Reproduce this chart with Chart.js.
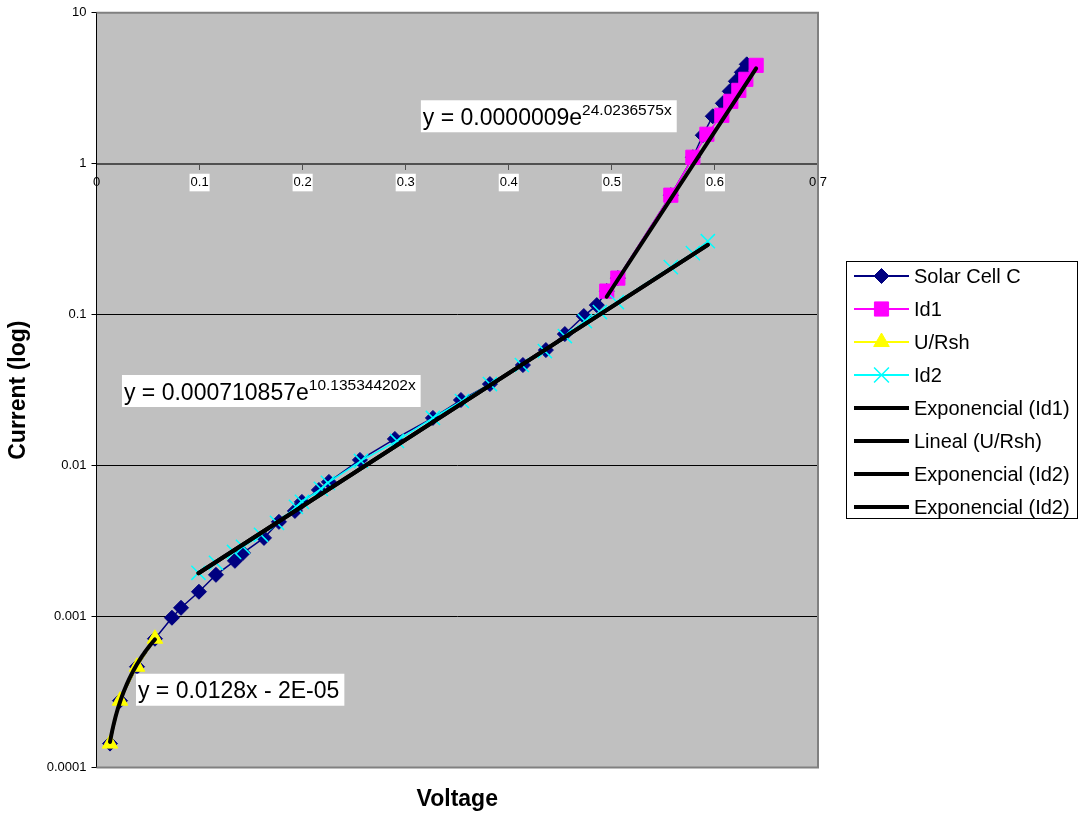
<!DOCTYPE html>
<html>
<head>
<meta charset="utf-8">
<title>Solar Cell C – I-V curve</title>
<script src="https://cdn.jsdelivr.net/npm/chart.js@4.4.1/dist/chart.umd.min.js"></script>
<style>
  html, body { margin: 0; padding: 0; background: #ffffff; }
  #wrap { width: 1078px; height: 816px; position: relative; }
</style>
</head>
<body>
<div id="wrap"><canvas id="chart" width="1078" height="816"></canvas></div>
<script>
// ---- measured data (voltage in V, current in A) ----
const seriesNames = ['Solar Cell C', 'Id1', 'U/Rsh', 'Id2',
  'Exponencial (Id1)', 'Lineal (U/Rsh)', 'Exponencial (Id2)', 'Exponencial (Id2)'];

const scVoltage = [0.0131, 0.0228, 0.0393, 0.0567, 0.0732, 0.0820, 0.0994, 0.1159, 0.1343, 0.1421,
  0.1625, 0.1770, 0.1925, 0.1993, 0.2158, 0.2255, 0.2556, 0.2895, 0.3264, 0.3536,
  0.3817, 0.4137, 0.4360, 0.4544, 0.4728, 0.4854, 0.4950, 0.5058, 0.5572, 0.5786,
  0.5882, 0.5979, 0.6077, 0.6144, 0.6203, 0.6261, 0.6309];
const scCurrent = [0.000144, 0.000277, 0.000465, 0.000713, 0.000982, 0.001143, 0.00146, 0.00189, 0.00234, 0.00264,
  0.00332, 0.00424, 0.00501, 0.00575, 0.00690, 0.00780, 0.01091, 0.01502, 0.0207, 0.0272,
  0.0347, 0.0464, 0.0583, 0.0744, 0.0979, 0.1157, 0.1433, 0.1747, 0.619, 1.104,
  1.544, 2.063, 2.514, 3.018, 3.516, 4.033, 4.555];

const id1Voltage = [0.495, 0.5058, 0.5572, 0.5786, 0.5922, 0.6067, 0.6154, 0.6232, 0.6300, 0.640];
const id1Current = [0.1433, 0.1747, 0.619, 1.104, 1.568, 2.094, 2.592, 3.064, 3.625, 4.486];

const urshVoltage = [0.0131, 0.0228, 0.0393, 0.0567];
const urshCurrent = [0.000144, 0.000277, 0.000465, 0.000713];

const id2Voltage = [0.0989, 0.1159, 0.1334, 0.1421, 0.1596, 0.1751, 0.1935, 0.1993, 0.2177, 0.2245,
  0.2566, 0.2915, 0.3264, 0.3545, 0.3817, 0.4127, 0.4350, 0.4544, 0.4738, 0.4884,
  0.5049, 0.5572, 0.5786, 0.5931];
const id2Current = [0.00195, 0.00227, 0.00268, 0.00290, 0.00348, 0.00418, 0.00533, 0.00575, 0.00701, 0.00769,
  0.01074, 0.01457, 0.0207, 0.0268, 0.0347, 0.0464, 0.0574, 0.0722, 0.0907, 0.1041,
  0.1212, 0.2065, 0.2557, 0.3069];

// fitted trendline coefficients
const fitId1 = [0.0000009, 24.0236575];      // y = a·e^(b·x)
const fitId2 = [0.000710857, 10.135344202];  // y = a·e^(b·x)
const fitUrsh = [0.0128, -0.00002];          // y = m·x + c

// axis ticks
const xTickValues = [0, 0.1, 0.2, 0.3, 0.4, 0.5, 0.6, 0.7];
const xTickLabels = ['0', '0.1', '0.2', '0.3', '0.4', '0.5', '0.6', '0.7'];
const yTickValues = [0.0001, 0.001, 0.01, 0.1, 1, 10];
const yTickLabels = ['0.0001', '0.001', '0.01', '0.1', '1', '10'];

// ---- helpers ----
const FONT = "'Liberation Sans', Arial, Helvetica, sans-serif";

function toPoints(xs, ys) { return xs.map((x, i) => ({ x: x, y: ys[i] })); }

function expTrend(coef, xs) {
  const x0 = Math.min(...xs), x1 = Math.max(...xs);
  return [x0, x1].map(x => ({ x: x, y: coef[0] * Math.exp(coef[1] * x) }));
}

function linTrend(coef, xs, steps) {
  const x0 = Math.min(...xs), x1 = Math.max(...xs);
  const out = [];
  for (let i = 0; i <= steps; i++) {
    const x = x0 + (x1 - x0) * i / steps;
    out.push({ x: x, y: coef[0] * x + coef[1] });
  }
  return out;
}

// styles for series and legend
const styles = [
  { line: '#000080', lw: 1.5, marker: 'rectRot', r: 7.5, legendR: 7.5, fill: '#000080' },
  { line: '#FF00FF', lw: 1.5, marker: 'rect', r: 10, legendR: 10, fill: '#FF00FF' },
  { line: '#FFFF00', lw: 1.5, marker: 'triangle', r: 9, legendR: 9, fill: '#FFFF00' },
  { line: '#00FFFF', lw: 1.5, marker: 'crossRot', r: 10, legendR: 10.5, fill: '#00FFFF' },
  { line: '#000000', lw: 4 },
  { line: '#000000', lw: 4 },
  { line: '#000000', lw: 4 },
  { line: '#000000', lw: 4 }
];

function seriesDataset(i, data, order) {
  const s = styles[i];
  return {
    label: seriesNames[i], data: data, showLine: true,
    borderColor: s.line, borderWidth: s.lw, backgroundColor: s.fill,
    pointStyle: s.marker, pointRadius: s.r, pointHoverRadius: s.r,
    pointBackgroundColor: s.fill, pointBorderColor: s.fill,
    pointBorderWidth: s.marker === 'crossRot' ? 1.5 : 1,
    order: order
  };
}

function trendDataset(i, data, order) {
  return {
    label: seriesNames[i], data: data, showLine: true,
    borderColor: '#000000', borderWidth: 4, pointRadius: 0, pointHoverRadius: 0,
    borderCapStyle: 'round', order: order
  };
}

// marker drawing for the legend symbols
function drawMarker(ctx, style, x, y, r, color) {
  ctx.save();
  ctx.fillStyle = color; ctx.strokeStyle = color; ctx.lineWidth = 1;
  ctx.beginPath();
  if (style === 'rectRot') {
    ctx.moveTo(x, y - r); ctx.lineTo(x + r, y); ctx.lineTo(x, y + r); ctx.lineTo(x - r, y);
    ctx.closePath(); ctx.fill(); ctx.stroke();
  } else if (style === 'rect') {
    const s = r * Math.SQRT1_2;
    ctx.rect(x - s, y - s, 2 * s, 2 * s); ctx.fill(); ctx.stroke();
  } else if (style === 'triangle') {
    for (let k = 0; k < 3; k++) {
      const a = k * 2 * Math.PI / 3;
      const px = x + Math.sin(a) * r, py = y - Math.cos(a) * r;
      if (k === 0) ctx.moveTo(px, py); else ctx.lineTo(px, py);
    }
    ctx.closePath(); ctx.fill(); ctx.stroke();
  } else if (style === 'crossRot') {
    const s = r * Math.SQRT1_2;
    ctx.lineWidth = 1.5;
    ctx.moveTo(x - s, y - s); ctx.lineTo(x + s, y + s);
    ctx.moveTo(x + s, y - s); ctx.lineTo(x - s, y + s);
    ctx.stroke();
  }
  ctx.restore();
}

// fitted-equation labels: anchor (top-left) in data coordinates
const equationLabels = [
  { at: [0.3147, 2.633], main: 'y = 0.0000009e', sup: '24.0236575x' },
  { at: [0.0247, 0.03984], main: 'y = 0.000710857e', sup: '10.135344202x' },
  { at: [0.0383, 0.000418], main: 'y = 0.0128x - 2E-05', sup: '' }
];

const plotDecor = {
  id: 'plotDecor',
  beforeDraw(chart) {
    const { ctx, chartArea: a } = chart;
    ctx.save();
    ctx.fillStyle = '#C0C0C0';
    ctx.fillRect(a.left, a.top, a.right - a.left, a.bottom - a.top);
    ctx.restore();
  },
  afterDatasetsDraw(chart) {
    const { ctx } = chart;
    const xs = chart.scales.x, ys = chart.scales.y;
    equationLabels.forEach(lbl => {
      const left = xs.getPixelForValue(lbl.at[0]);
      const top = ys.getPixelForValue(lbl.at[1]);
      ctx.save();
      ctx.font = '23px ' + FONT;
      const w1 = ctx.measureText(lbl.main).width;
      ctx.font = '15.5px ' + FONT;
      const w2 = lbl.sup ? ctx.measureText(lbl.sup).width : 0;
      ctx.fillStyle = '#FFFFFF';
      ctx.fillRect(left, top, w1 + w2 + 7, 32);
      ctx.fillStyle = '#000000';
      ctx.textBaseline = 'alphabetic';
      ctx.textAlign = 'left';
      ctx.font = '23px ' + FONT;
      ctx.fillText(lbl.main, left + 2, top + 24.5);
      if (lbl.sup) {
        ctx.font = '15.5px ' + FONT;
        ctx.fillText(lbl.sup, left + 2 + w1, top + 15);
      }
      ctx.restore();
    });
  },
  afterDraw(chart) {
    const { ctx, chartArea: a } = chart;
    // plot frame (top, right, bottom)
    ctx.save();
    ctx.strokeStyle = '#808080';
    ctx.lineWidth = 2;
    ctx.beginPath();
    ctx.moveTo(a.left, a.top); ctx.lineTo(a.right, a.top);
    ctx.lineTo(a.right, a.bottom); ctx.lineTo(a.left, a.bottom);
    ctx.stroke();
    ctx.restore();

    // legend
    const boxL = 846.5, boxT = 261.5, boxR = 1077.5, boxB = 518.5;
    ctx.save();
    ctx.fillStyle = '#FFFFFF';
    ctx.fillRect(boxL, boxT, boxR - boxL, boxB - boxT);
    ctx.strokeStyle = '#000000';
    ctx.lineWidth = 1;
    ctx.strokeRect(boxL, boxT, boxR - boxL, boxB - boxT);
    seriesNames.forEach((name, i) => {
      const s = styles[i];
      const y = 276 + i * 33;
      ctx.strokeStyle = s.line;
      ctx.lineWidth = s.marker ? 2 : 4;
      ctx.beginPath();
      ctx.moveTo(854, y); ctx.lineTo(909, y);
      ctx.stroke();
      if (s.marker) drawMarker(ctx, s.marker, 881.5, y, s.legendR, s.fill);
      ctx.fillStyle = '#000000';
      ctx.font = '20px ' + FONT;
      ctx.textAlign = 'left';
      ctx.textBaseline = 'middle';
      ctx.fillText(name, 914, y + 1);
    });
    ctx.restore();
  }
};

const datasets = [
  seriesDataset(0, toPoints(scVoltage, scCurrent), 8),
  seriesDataset(1, toPoints(id1Voltage, id1Current), 7),
  seriesDataset(2, toPoints(urshVoltage, urshCurrent), 6),
  seriesDataset(3, toPoints(id2Voltage, id2Current), 5),
  trendDataset(4, expTrend(fitId1, id1Voltage), 4),
  trendDataset(5, linTrend(fitUrsh, urshVoltage, 40), 3),
  trendDataset(6, expTrend(fitId2, id2Voltage), 2),
  trendDataset(7, expTrend(fitId2, id2Voltage), 1)
];

new Chart(document.getElementById('chart'), {
  type: 'scatter',
  data: { datasets: datasets },
  plugins: [plotDecor],
  options: {
    responsive: false,
    animation: false,
    events: [],
    layout: { padding: { top: 11.5, right: 260, bottom: 0, left: 0 } },
    plugins: { legend: { display: false }, tooltip: { enabled: false }, title: { display: false } },
    scales: {
      x: {
        type: 'linear', position: { y: 1 }, min: 0, max: 0.7,
        afterBuildTicks: s => { s.ticks = xTickValues.map(v => ({ value: v })); },
        ticks: {
          callback: (v, i) => xTickLabels[i],
          font: { size: 13, family: FONT }, color: '#000000', padding: 6,
          maxRotation: 0, autoSkip: false,
          showLabelBackdrop: c => c.index > 0 && c.index < xTickValues.length - 1,
          backdropColor: '#FFFFFF', backdropPadding: { x: 1, y: 1 }
        },
        grid: { display: true, drawOnChartArea: false, drawTicks: true, tickLength: 5, color: '#505050', lineWidth: 1 },
        border: { display: true, color: '#505050', width: 2 }
      },
      xTitle: {
        type: 'linear', position: 'bottom', min: 0, max: 0.7, display: true,
        grid: { display: false }, border: { display: false }, ticks: { display: false },
        title: {
          display: true, text: 'Voltage', color: '#000000',
          font: { size: 23, weight: 'bold', family: FONT }, padding: { top: 18, bottom: 3 }
        },
        afterFit: s => { s.height = 48.5; }
      },
      y: {
        type: 'logarithmic', position: 'left', min: 0.0001, max: 10,
        afterBuildTicks: s => { s.ticks = yTickValues.map(v => ({ value: v })); },
        ticks: {
          callback: (v, i) => yTickLabels[i],
          font: { size: 13, family: FONT }, color: '#000000', padding: 5, autoSkip: false
        },
        grid: {
          color: c => (c.tick && (c.tick.value === 10 || c.tick.value === 0.0001)) ? 'rgba(0,0,0,0)' : '#000000',
          tickColor: '#000000', tickLength: 5, lineWidth: 1
        },
        border: { display: true, color: '#000000', width: 1 },
        title: {
          display: true, text: 'Current (log)', color: '#000000',
          font: { size: 23, weight: 'bold', family: FONT }, padding: { top: 5, bottom: 0 }
        },
        afterFit: s => { s.width = 96.5; }
      }
    }
  }
});
</script>
</body>
</html>
